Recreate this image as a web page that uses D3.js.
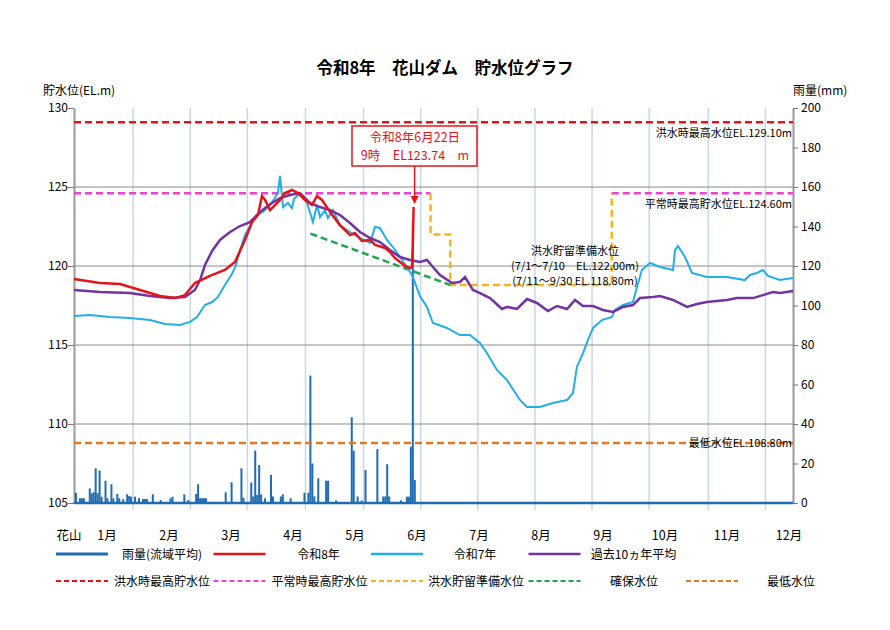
<!DOCTYPE html>
<html>
<head>
<meta charset="utf-8">
<script src="https://cdn.jsdelivr.net/npm/d3@7"></script>
<style>
body { margin: 0; background: #fff; }
text { font-family: "Noto Sans CJK JP", "Noto Sans", sans-serif; }
</style>
</head>
<body>
<svg id="chart" width="890" height="630"></svg>
<script>
// day of year (Jan 1 = 0) and water level EL.m
var reiwa8 = [[0,119.18],[13.2,118.92],[23.4,118.86],[33.5,118.48],[43.7,118.10],[51.3,117.97],[56.3,118.16],
  [61.4,118.92],[69,119.37],[76.6,119.75],[81.7,120.25],[86.8,121.65],[90.4,122.78],[93.4,123.23],[95.4,124.43],
  [97,124.18],[99.5,123.54],[102,123.86],[104.6,124.18],[107.1,124.62],[110.7,124.81],[113.7,124.62],[117.3,124.18],
  [120.8,123.86],[123.4,124.43],[125.9,124.18],[130,123.42],[135,122.59],[140.1,121.96],[142.6,122.09],[146.2,121.58],
  [150.3,121.65],[152.8,121.33],[157.9,121.14],[160.4,120.89],[162.9,120.51],[165.5,120.25],[168,120.0],[170.6,119.87],
  [171.6,119.95],[172,121.3],[172.4,123.74]];

var reiwa7 = [[0,116.84],[8.1,116.9],[18.3,116.77],[28.4,116.71],[38.6,116.58],[46.2,116.33],[53.8,116.27],[58.9,116.46],
  [62.4,116.77],[66.5,117.53],[70.1,117.72],[73.1,118.04],[76.6,118.8],[80.2,119.49],[82.2,120.06],[84.3,121.01],
  [86.8,121.96],[90.4,122.78],[93.4,123.23],[97,123.54],[99.5,123.86],[102,124.30],[103.6,124.68],[104.6,125.70],
  [106.1,123.73],[108.6,123.99],[110.7,123.67],[111.7,124.24],[114.7,124.62],[118.3,123.99],[121.3,122.78],[123.4,123.86],
  [124.9,123.10],[127.4,123.54],[128.9,123.04],[131.5,123.54],[135,122.59],[140.1,122.15],[145.2,121.77],[150.3,121.46],
  [152.8,122.47],[155.3,122.41],[158.9,121.65],[161.9,121.20],[165.5,120.57],[169,119.94],[172.1,119.30],[175.6,118.10],
  [179.2,117.41],[182.2,116.39],[189.3,116.08],[195.9,115.63],[201,115.63],[206.1,115.13],[209.6,114.49],[214.7,113.42],
  [219.8,112.78],[226.4,111.52],[230,111.08],[236.5,111.08],[243.1,111.33],[250.3,111.52],[253.3,111.96],[255.3,113.61],
  [258.4,114.49],[260.9,115.32],[263.5,116.08],[268,116.58],[273.1,116.77],[274.6,117.22],[278.7,117.53],[283.8,117.72],
  [285.8,118.67],[288.3,119.75],[292.4,120.19],[297.5,119.94],[304.1,119.75],[305.1,121.01],[306.6,121.27],[310.2,120.57],
  [313.7,119.56],[321.3,119.30],[331.5,119.30],[340.6,119.11],[343.1,119.43],[346.7,119.56],[349.7,119.75],[352.3,119.37],
  [358.4,119.11],[365,119.24]];

var avg10 = [[0,118.48],[13.2,118.35],[28.4,118.29],[38.6,118.10],[48.7,117.97],[56.3,118.04],[61.4,118.48],[64,119.11],
  [66.5,120.06],[70.1,120.95],[74.1,121.65],[79.2,122.15],[84.3,122.53],[89.3,122.78],[93.4,123.29],[97,123.67],
  [100.5,123.99],[104.6,124.30],[109.6,124.49],[114.7,124.62],[119.8,123.99],[124.9,123.73],[130,123.54],[135,123.23],
  [140.1,122.72],[145.2,122.15],[150.3,121.77],[155.3,121.52],[160.4,121.01],[165.5,120.57],[170.6,120.38],[175.6,120.25],
  [179.2,120.38],[182.2,119.94],[185.8,119.43],[191.9,118.92],[195.9,118.99],[198.5,119.30],[202.5,118.48],[206.1,118.29],
  [211.2,117.97],[217.3,117.28],[219.8,117.41],[224.9,117.28],[230,117.91],[235,117.66],[240.6,117.15],[245.2,117.47],
  [250.3,117.28],[254.3,117.85],[258.4,117.47],[263.5,117.47],[268.5,117.22],[273.6,117.09],[278.7,117.41],[283.8,117.53],
  [287.3,117.97],[293.9,118.04],[297.5,118.10],[304.1,117.85],[311.2,117.41],[316.2,117.59],[321.3,117.72],[331.5,117.85],
  [336.5,117.97],[344.7,117.97],[349.7,118.16],[354.8,118.35],[358.4,118.29],[365,118.42]];

// daily basin rainfall (mm)
var rainDays = [1,3,4,5,8,9,10,11,12,13,14,16,17,19,20,22,23,25,27,28,29,31,33,35,36,37,40,44,49,50,56,58,62,63,64,65,66,67,
  77,80,85,86,90,91,92,93,94,95,97,100,101,105,106,110,117,119,120,121,122,124,128,129,133,141,142,144,146,148,154,
  157,158,159,160,166,169,170,171,172,173];
var rainMm = [5.2,2.4,2.4,2.4,7.4,4.9,5.5,17.6,5,16.4,3.2,11.3,2.4,9.5,2.4,4.6,2.4,1.9,4.4,3.5,3.2,3.2,2.4,2,2,2,4.4,1.5,2.4,3.2,4.4,1.5,4.6,9.5,2.4,2.4,2.4,2.4,
  5.4,10.5,17.6,2.7,10.3,3.3,26.5,4.1,19.2,4.4,2.4,14.2,3.3,3.3,4.4,2.4,5.2,5.2,64.5,20,3.3,12.5,11.3,11.3,1.3,43.4,26.5,
  3.3,1.3,16.7,27.3,3.3,3.3,19.6,3.3,1.3,3.2,3.2,28.5,142,11.6];

// reference levels
var floodMax = 129.10, normalMax = 124.60, minLevel = 108.80;
var normalMaxSpans = [[0,181],[273,365]];
var floodReserve = [[181,124.6],[181,122.0],[191,122.0],[191,118.8],[273,118.8],[273,124.6]];
var securedLevel = [[120,122.05],[191,118.8]];

var monthGrid = [30,59,88,117.5,147,176,205,234,263,292,322,351];
var monthLabels = ["1月","2月","3月","4月","5月","6月","7月","8月","9月","10月","11月","12月"];
var levelTicks = [105,110,115,120,125,130];
var rainTicks = [0,20,40,60,80,100,120,140,160,180,200];

var C = {
  rain: "#1f6cb3", r8: "#e5141b", r7: "#22aee6", avg: "#7433a3",
  flood: "#e5141b", normal: "#ef3fcf", reserve: "#f5b51b", secured: "#1fa64f", min: "#e07a22"
};

var svg = d3.select("#chart");
var x = d3.scaleLinear().domain([0,365]).range([74,793]);
var yL = d3.scaleLinear().domain([105,130]).range([503,108]);
var yR = d3.scaleLinear().domain([0,200]).range([503,108]);

// title
svg.append("text").attr("x", 445).attr("y", 74).attr("text-anchor", "middle")
  .attr("font-size", 16.5).attr("font-weight", "bold").text("令和8年　花山ダム　貯水位グラフ");

// grid
svg.append("g").selectAll("line").data(monthGrid).enter().append("line")
  .attr("x1", d => x(d)).attr("x2", d => x(d)).attr("y1", 108).attr("y2", 510)
  .attr("stroke", "#c7d8ea").attr("stroke-width", 1.5);
svg.append("g").selectAll("line").data([110,115,120,125]).enter().append("line")
  .attr("x1", 74).attr("x2", 793).attr("y1", d => yL(d)).attr("y2", d => yL(d))
  .attr("stroke", "#8a8a8a").attr("stroke-width", 1);

// axes
var axL = svg.append("g").attr("transform", "translate(74,0)")
  .call(d3.axisLeft(yL).tickValues(levelTicks).tickSize(6).tickSizeOuter(0));
var axR = svg.append("g").attr("transform", "translate(793,0)")
  .call(d3.axisRight(yR).tickValues(rainTicks).tickSize(5).tickSizeOuter(0));
[axL, axR].forEach(function(a){
  a.select(".domain").attr("stroke", "#9a9a9a").attr("stroke-width", 2);
  a.selectAll(".tick line").attr("stroke", "#777");
  a.selectAll(".tick text").attr("font-size", 12).attr("fill", "#000")
    .attr("font-family", "'Noto Sans CJK JP', sans-serif");
});
axL.selectAll(".tick text").attr("x", -6);
axR.selectAll(".tick text").attr("x", 8);

svg.append("text").attr("x", 43).attr("y", 95).attr("font-size", 12).text("貯水位(EL.m)");
svg.append("text").attr("x", 793).attr("y", 95).attr("font-size", 12).text("雨量(mm)");

// rainfall bars
svg.append("g").selectAll("rect").data(rainDays).enter().append("rect")
  .attr("x", d => x(d) - 1).attr("width", 2)
  .attr("y", (d, i) => yR(rainMm[i]))
  .attr("height", (d, i) => yR(0) - yR(rainMm[i]))
  .attr("fill", C.rain);
svg.append("line").attr("x1", 74).attr("x2", 793).attr("y1", 503).attr("y2", 503)
  .attr("stroke", C.rain).attr("stroke-width", 2.5);

var line = d3.line().x(d => x(d[0])).y(d => yL(d[1]));
var dash = "7,4";

// reference lines
svg.append("line").attr("x1", x(0)).attr("x2", x(365)).attr("y1", yL(floodMax)).attr("y2", yL(floodMax))
  .attr("stroke", C.flood).attr("stroke-width", 2.5).attr("stroke-dasharray", dash);
svg.append("g").selectAll("line").data(normalMaxSpans).enter().append("line")
  .attr("x1", d => x(d[0])).attr("x2", d => x(d[1])).attr("y1", yL(normalMax)).attr("y2", yL(normalMax))
  .attr("stroke", C.normal).attr("stroke-width", 2.5).attr("stroke-dasharray", dash);
svg.append("path").attr("d", line(floodReserve)).attr("fill", "none")
  .attr("stroke", C.reserve).attr("stroke-width", 2.5).attr("stroke-dasharray", dash);
svg.append("path").attr("d", line(securedLevel)).attr("fill", "none")
  .attr("stroke", C.secured).attr("stroke-width", 2.5).attr("stroke-dasharray", dash);
svg.append("line").attr("x1", x(0)).attr("x2", x(365)).attr("y1", yL(minLevel)).attr("y2", yL(minLevel))
  .attr("stroke", C.min).attr("stroke-width", 2.5).attr("stroke-dasharray", dash);

// level series
svg.append("path").attr("d", line(reiwa7)).attr("fill", "none").attr("stroke", C.r7).attr("stroke-width", 2);
svg.append("path").attr("d", line(avg10)).attr("fill", "none").attr("stroke", C.avg).attr("stroke-width", 2.5);
svg.append("path").attr("d", line(reiwa8)).attr("fill", "none").attr("stroke", C.r8).attr("stroke-width", 2.5);

// level labels
function note(tx, ty, s, anchor) {
  svg.append("text").attr("x", tx).attr("y", ty).attr("font-size", 11)
    .attr("text-anchor", anchor || "end").text(s);
}
note(792, yL(floodMax) + 15, "洪水時最高水位EL.129.10m");
note(792, yL(normalMax) + 15, "平常時最高貯水位EL.124.60m");
note(792, yL(minLevel) + 4, "最低水位EL.108.80m");
note(575, 255, "洪水貯留準備水位", "middle");
note(575, 270, "(7/1～7/10　EL.122.00m)", "middle");
note(575, 285, "(7/11～9/30 EL.118.80m)", "middle");

// current value callout
var last = reiwa8[reiwa8.length - 1];
var ax = x(last[0]) + 1;
svg.append("rect").attr("x", 352).attr("y", 126).attr("width", 125).attr("height", 40)
  .attr("fill", "#fff").attr("stroke", C.r8).attr("stroke-width", 1.5);
svg.append("text").attr("x", 415).attr("y", 142).attr("text-anchor", "middle")
  .attr("font-size", 12.5).attr("fill", C.r8).text("令和8年6月22日");
svg.append("text").attr("x", 415).attr("y", 160).attr("text-anchor", "middle")
  .attr("font-size", 12.5).attr("fill", C.r8).text("9時　EL" + last[1].toFixed(2) + "　m");
svg.append("line").attr("x1", ax).attr("x2", ax).attr("y1", 166).attr("y2", yL(last[1]) - 8)
  .attr("stroke", C.r8).attr("stroke-width", 1.5);
svg.append("path")
  .attr("d", "M" + (ax - 4) + "," + (yL(last[1]) - 11) + "L" + (ax + 4) + "," + (yL(last[1]) - 11) +
    "L" + ax + "," + (yL(last[1]) - 3) + "Z")
  .attr("fill", C.r8);

// month labels row
var mBand = d3.scaleBand().domain(monthLabels).range([76, 820]);
svg.append("text").attr("x", 69).attr("y", 540).attr("text-anchor", "middle").attr("font-size", 12.5).text("花山");
svg.append("g").selectAll("text").data(monthLabels).enter().append("text")
  .attr("x", d => mBand(d) + mBand.bandwidth() / 2).attr("y", 540)
  .attr("text-anchor", "middle").attr("font-size", 12.5).text(d => d);

// legend
var legendRow1 = [
  {name: "雨量(流域平均)", color: C.rain, dash: null, w: 3},
  {name: "令和8年", color: C.r8, dash: null, w: 2.5},
  {name: "令和7年", color: C.r7, dash: null, w: 2.5},
  {name: "過去10ヵ年平均", color: C.avg, dash: null, w: 2.5}
];
var legendRow2 = [
  {name: "洪水時最高貯水位", color: C.flood},
  {name: "平常時最高貯水位", color: C.normal},
  {name: "洪水貯留準備水位", color: C.reserve},
  {name: "確保水位", color: C.secured},
  {name: "最低水位", color: C.min}
];
function drawLegendRow(items, y, textOffsets) {
  var g = svg.append("g");
  items.forEach(function(it, i) {
    var x0 = 56 + i * 157.5;
    g.append("line").attr("x1", x0).attr("x2", x0 + 52).attr("y1", y).attr("y2", y)
      .attr("stroke", it.color).attr("stroke-width", it.w || 2)
      .attr("stroke-dasharray", it.dash === null ? null : "5,3");
    g.append("text").attr("x", x0 + textOffsets[i]).attr("y", y + 5).attr("text-anchor", "middle")
      .attr("font-size", 12).text(it.name);
  });
}
drawLegendRow(legendRow1, 554, [106, 105, 104, 105]);
drawLegendRow(legendRow2, 581, [106, 106, 105, 105.5, 105]);
</script>
</body>
</html>
